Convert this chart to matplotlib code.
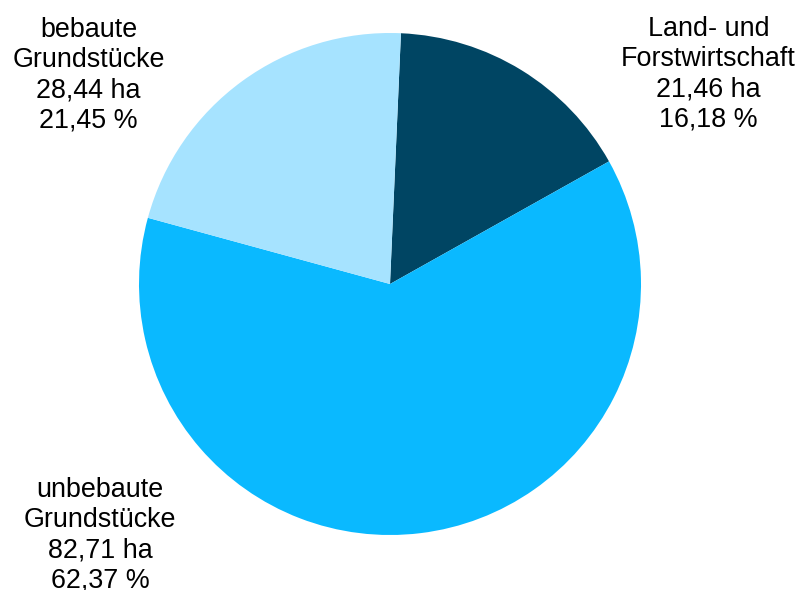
import matplotlib.pyplot as plt

# Flächennutzung in ha
kategorien = ['Land- und\nForstwirtschaft', 'unbebaute\nGrundstücke', 'bebaute\nGrundstücke']
flaeche_ha = [21.46, 82.71, 28.44]
anteil_pct = [16.18, 62.37, 21.45]
farben = ['#004563', '#0AB9FF', '#A6E3FF']

plt.rcParams['font.family'] = ['Liberation Sans', 'DejaVu Sans']

W, H = 799, 590
fig = plt.figure(figsize=(W / 100, H / 100), dpi=100)
ax = fig.add_axes([139 / W, 55 / H, 502 / W, 502 / H])
ax.pie(flaeche_ha, colors=farben, startangle=87.5, counterclock=False,
       radius=1.0, wedgeprops=dict(linewidth=0))
ax.set_xlim(-1, 1)
ax.set_ylim(-1, 1)
ax.set_aspect('equal')
ax.axis('off')


def fmt(x):
    return f'{x:.2f}'.replace('.', ',')


# Beschriftung: Mitte x und Grundlinie der ersten Zeile, in Pixeln von oben links
pos = [(708.5, 36), (100, 497), (88.5, 37)]
zeilenabstand = 30.3
for name, ha_val, pct, (px, py) in zip(kategorien, flaeche_ha, anteil_pct, pos):
    zeilen = name.split('\n') + [f'{fmt(ha_val)} ha', f'{fmt(pct)} %']
    for i, z in enumerate(zeilen):
        fig.text(px / W, 1 - (py + i * zeilenabstand) / H, z,
                 ha='center', va='baseline', fontsize=19.4)

fig.savefig('out.png', dpi=100)
